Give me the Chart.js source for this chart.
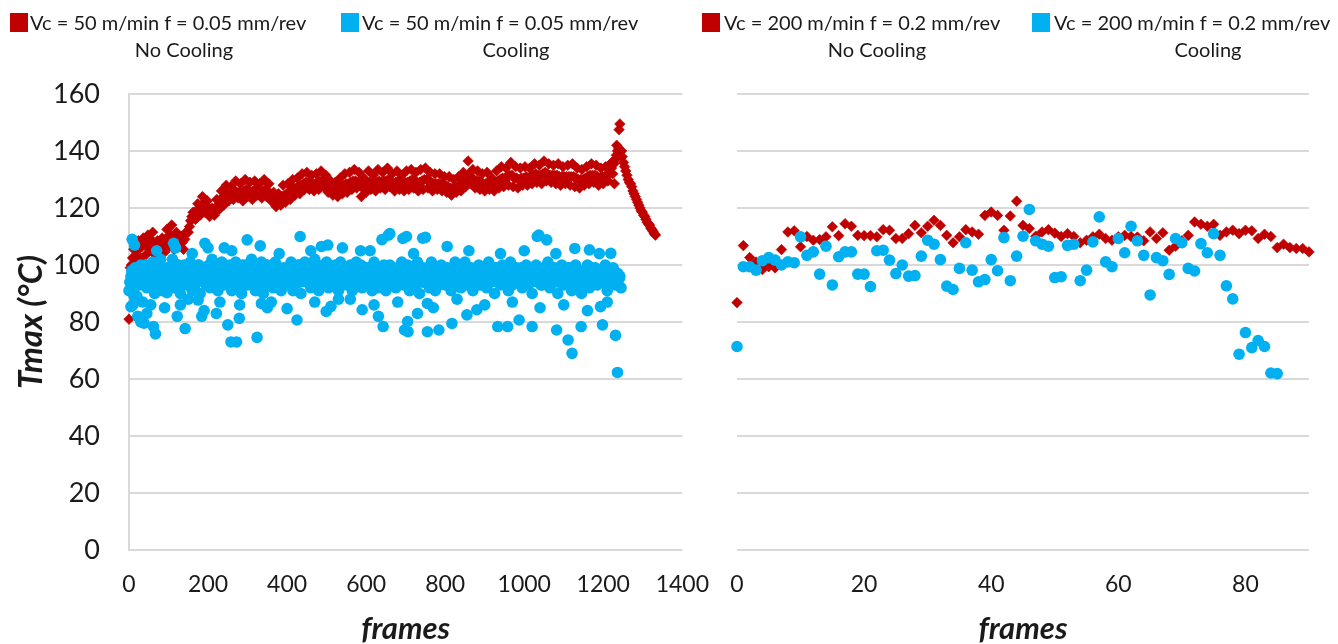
<!DOCTYPE html>
<html><head><meta charset="utf-8">
<script src="https://cdn.jsdelivr.net/npm/chart.js@4.4.1/dist/chart.umd.min.js"></script>
<style>
html,body{margin:0;padding:0;background:#fff;}
#wrap{position:relative;width:1338px;height:644px;overflow:hidden;font-family:Lato,"Open Sans",sans-serif;}
canvas{position:absolute;top:0;}
.box{position:absolute;width:18px;height:19px;top:13px;}
.lt{position:absolute;font-size:20px;color:#1a1a1a;white-space:nowrap;line-height:24px;}
.c{transform:translateX(-50%);}
</style></head><body>
<div id="wrap">
<canvas id="left" width="730" height="644" style="left:0;width:730px;height:644px"></canvas>
<canvas id="right" width="638" height="644" style="left:700px;width:638px;height:644px"></canvas>
<div id="legend"></div>
</div>
<script>
// ---------- DATA ----------
const RED = '#C00000';
const BLUE = '#00B0F0';

const legendLine1 = ['Vc = 50 m/min f = 0.05 mm/rev','Vc = 50 m/min f = 0.05 mm/rev','Vc = 200 m/min f = 0.2 mm/rev','Vc = 200 m/min f = 0.2 mm/rev'];
const legendLine2 = ['No Cooling','Cooling','No Cooling','Cooling'];

const leftXTicks = [0,200,400,600,800,1000,1200,1400];
const rightXTicks = [0,20,40,60,80];
const yTicks = [0,20,40,60,80,100,120,140,160];

// left panel, no cooling: samples every 6 frames starting at frame 0
const redLeftStep = 6;
const redLeft = [
81,100,105.5,100.5,108.5,102.5,109.5,103.5,110.5,105.5,
111.5,103.5,108.5,102.5,109.5,104.5,112.5,106.5,114,105.5,
111.5,106.5,110,105.5,111.5,111.5,115.5,118.5,116,121.5,
117.5,124,118.5,122.5,117,120,117.5,123,119.5,126,
121,128,122.5,127.5,123,129.5,123.5,128.5,122.5,130,
124,129,123,129.5,124.5,128.5,123.5,130,124,128.5,
122.5,125.5,120.5,125,121,128,122,128.5,123,130,
124.5,130.5,125,132,126.5,132.5,126.5,131.5,126,132,
126.5,133,127.5,131.5,125.5,129.5,124.5,129,124,130.5,
125,132,125.5,132.5,126.5,133.5,127,132.5,124,130.5,
125.5,133,126.5,131.5,126,133.5,127,132.5,126.5,134,
127.5,132,126,133,126.5,131.5,126,133,126.5,133.5,
127,132.5,126,133.5,126.5,134,127,132.5,126,132,
126.5,132,126,131,125.5,131,124.5,130,125.5,131,
126,132.5,127.5,136.5,128.5,133.5,127,133,126.5,132,
126,132.5,126.5,130.5,126,133,127,134.5,127.5,134,
128,136,127.5,134.5,127,134,128,134.5,128,134,
128.5,135.5,129,135,128.5,136.5,129.5,135.5,129,135,
128.5,135.5,128,134.5,128.5,135,128,135.5,127.5,134,
127,133.5,128,134.5,128.5,135.5,129,135,128,134,
128.5,134.5,129.5,135.5,132,137,140,149.5,138,134.5,
131.5,129,127.5,125,123,121,119,117.5,116,114.5,
113,111.8,110.5
];
// left panel, no cooling: samples in between, every 6 frames starting at frame 3
const redLeftMidStart = 3;
const redLeftMid = [
99,102.5,103,105,106,106.5,107,107.5,108,108.5,
108,106,106,106.5,107,109,110,110.5,109.5,108.5,
109,108,108,109,111.5,113.5,117,117.5,118.5,120,
121,121,120.5,120,118.5,119,120,121,123,123,
124.5,125,124.5,125.5,126,125.5,125.5,125,126,126.5,
126,125.5,126,126.5,126,125.5,126,126.5,126,125,
123.5,122.5,122.5,123,124,124.5,125,125.5,126,127,
127,127.5,128,128.5,129,129,128.5,128.5,128.5,129,
129.5,129.5,128.5,127.5,126.5,126.5,126,126,127,127.5,
128,128.5,128.5,129,129.5,129.5,129,128,127,127.5,
128.5,129,128.5,128.5,129,129.5,129,129.5,129.5,130,
129.5,128.5,129,129.5,128.5,128.5,129,129,129.5,130,
129.5,129,129,129.5,130,130,129.5,129,128.5,128.5,
128.5,128.5,128,128,127.5,127,127,127,127.5,128,
128.5,129.5,131.5,132,130.5,130,129.5,129.5,129,128.5,
128.5,129,128,128,129,129.5,130,130.5,130.5,130.5,
131.5,131.5,130.5,130.5,130,130.5,130.5,131,130.5,131,
131.5,132,131.5,131.5,132,132.5,132,131.5,131.5,131.5,
131.5,131,131,131,131,131,131,131,130.5,130,
130,130,130.5,131,131.5,131.5,131.5,131,130.5,131,
131,131.5,132,134,135.5,138.5,141,140,136,133,
130,128.5,126,124,122,120,118.5,117,115,114,
112.5,111
];
const redLeftExtraFrames = [1222,1228,1234,1240,1246];
const redLeftExtraValues = [136,128.5,142,147.5,140];

// left panel, cooling: samples every 5 frames starting at frame 0
const blueLeftStep = 5;
const blueLeft = [
91,96,86,99,89,94,100,87,95,92,
97,93,101,90,98,94,102,91,96,99,
94,98,102,92,96,100,90,95,100,93,
97,101,91,98,94,100,90,96,99,93,
98,92,102,95,99,91,97,101,93,98,
94,100,91,97,101,93,98,90,96,100,
93,98,102,95,91,99,94,101,90,97,
100,93,98,92,101,96,99,91,95,98,
93,97,101,91,98,94,100,90,96,101,
94,98,92,97,102,95,91,99,94,98,
101,92,96,99,93,98,91,101,95,98,
93,97,100,91,95,101,94,98,92,96,
99,93,98,91,101,96,92,98,94,100,
91,97,100,93,98,92,99,95,101,93,
97,100,91,96,98,93,101,90,95,99,
94,98,92,101,96,91,98,93,100,97,
93,99,95,91,98,101,94,97,92,98,
101,93,96,99,91,98,95,100,93,97,
98,92,101,94,97,90,99,96,93,100,
95,98,91,101,93,97,99,94,98,92,
96,100,93,98,90,97,100,94,98,93,
99,95,101,92,97,94,98,90,96,100,
93,98,94,99,91,97,100,93,96,90,
98,94,100,92,97,95,99,93,98,94,
96,100,91,98,94,99,93,97,95,92
];
// left panel, cooling: samples in between, every 5 frames starting at frame 2
const blueLeftMidStart = 2;
const blueLeftMid = [
94,98,92,96,99,93,97,95,100,94,
96,99,93,97,95,100,94,98,93,97,
99,95,97,94,100,96,93,98,95,97,
94,99,96,93,97,100,95,98,94,96,
100,95,97,93,98,96,99,94,97,95,
97,93,99,95,98,96,94,100,95,97,
96,99,94,97,95,99,93,97,96,100,
94,97,95,99,93,98,96,94,99,95,
97,95,99,93,96,100,94,97,95,98,
96,94,99,95,97,93,99,96,100,94,
95,98,94,97,100,95,98,93,97,96,
99,94,96,98,93,97,95,100,96,94,
96,99,94,97,95,98,93,97,99,95,
98,94,96,99,95,97,93,98,96,100,
94,97,95,99,93,97,96,98,94,96,
97,95,99,94,97,99,95,96,98,94,
96,98,93,97,95,99,96,94,98,96,
95,97,99,94,96,98,93,97,96,99,
94,97,95,98,96,99,94,97,95,98,
97,94,99,96,95,98,94,96,99,95,
98,95,97,94,99,96,95,98,93,97,
96,98,94,97,95,99,96,94,98,95,
97,95,99,96,94,98,95,97,93,96,
95,98,96,94,99,96,97,95,98,94,
97,95,99,94,96,98,95,97,96
];
const blueLeftOutFrames = [8,14,5,13,22,30,38,45,55,62,67,90,96,113,118,122,130,142,150,175,
184,190,192,200,221,230,241,250,258,272,279,280,299,324,332,335,350,360,400,425,
433,470,487,499,503,511,530,540,560,586,590,620,631,640,643,656,680,693,697,702,
705,706,730,743,755,755,770,784,805,817,830,855,880,900,933,958,970,987,1020,1037,
1040,1057,1082,1100,1111,1121,1128,1144,1160,1165,1193,1198,1210,1219,1231,1236,
70,160,260,380,460,610,660,720,750,860,940,1000,1033,1080,1190];
const blueLeftOutValues = [109,107,85.4,89,82,80,79.6,83,86,78.4,75.8,85,90.3,107.6,106,82,86,77.7,88,87.7,
82,84,107.6,106,83,87,106,79,73,73,81.3,86,108.8,74.6,106.7,86.5,85,87,84.7,80.7,
110,87,106.5,83.7,107,85.5,88,106,88,105,84.3,86,82,108.9,78.4,110.5,87,109.3,77.2,110,
80.2,76.6,83,109.4,76.6,86.5,85,77.2,106.5,79.5,88,82.5,84.3,86,78.4,78.4,87,80.7,78.4,110.5,
85,108.8,77.2,86,73.7,69,105.8,78.4,84,105.3,85.4,79,87,104.1,75.3,62.3,
105,104,105,104,105,105,111,104,109.7,105,104,105,110,104,104];

// right panel: one value per frame starting at frame 0
const redRight = [
86.8,106.8,102.6,101,98.4,99.4,99,105.4,111.6,112,
106.4,110,108.7,108.9,109.9,113.4,110.3,114.5,113.6,110.4,
110.3,110.3,109.9,112.4,112.2,109.3,109.3,111,113.9,111.3,
113.6,115.7,113.9,110.4,107.8,109.9,112.4,111.6,110.8,117.4,
118.6,117.4,112.2,117.2,122.4,113.9,112.8,110.1,111.6,112.4,
111.2,110,111,110,107.8,108.7,109.9,110.8,109.3,108.7,
109.9,110.4,110,109.8,108.5,111.6,109.3,111.3,105.2,106.6,
108.5,110.4,115.1,114.3,113.6,114.3,110.4,111.6,112.2,111,
112.2,112,109.3,110.8,110,106.1,107.3,106.1,105.8,105.8,
104.6
];
const blueRight = [
71.4,99.4,99.4,98.2,101.5,102.6,101.7,100,101.1,100.8,
109.9,103.4,104.6,96.8,106.6,93,102.9,104.6,104.6,96.8,
96.8,92.4,105,105.2,101.7,97,100,96.1,96.3,103.1,
108.7,107.3,101.9,92.6,91.4,98.8,107.8,98.2,94.1,94.9,
101.9,98,109.6,94.5,103.1,110.1,119.5,108.5,107.3,106.6,
95.6,95.9,106.9,107.3,94.5,98.2,108.1,116.9,101.1,99.4,
109.3,104.3,113.6,108.5,103.4,89.5,102.6,101.5,96.7,109.3,
107.8,98.8,97.9,107.5,104.3,111,103.4,92.7,88.1,68.7,
76.3,71,73.5,71.4,62.1,61.9
];

// ---------- BUILD ----------
function stepPts(vals, step, start){ return vals.map((v,i)=>({x:(start||0)+i*step, y:v})); }
function pairPts(fr, vals){ return fr.map((f,i)=>({x:f, y:vals[i]})); }

const redLeftPts = stepPts(redLeft, redLeftStep, 0)
  .concat(stepPts(redLeftMid, redLeftStep, redLeftMidStart))
  .concat(pairPts(redLeftExtraFrames, redLeftExtraValues));
const blueLeftPts = stepPts(blueLeft, blueLeftStep, 0)
  .concat(stepPts(blueLeftMid, blueLeftStep, blueLeftMidStart))
  .concat(pairPts(blueLeftOutFrames, blueLeftOutValues));
const redRightPts = stepPts(redRight, 1, 0);
const blueRightPts = stepPts(blueRight, 1, 0);

// legend (HTML)
const legPos = [
  {box:10, text:30, center:184, color:RED},
  {box:341, text:362, center:516, color:BLUE},
  {box:702, text:724, center:877, color:RED},
  {box:1032, text:1054, center:1208, color:BLUE}
];
const leg = document.getElementById('legend');
legPos.forEach((p,i)=>{
  const b = document.createElement('div'); b.className='box'; b.style.left=p.box+'px'; b.style.background=p.color; leg.appendChild(b);
  const t1 = document.createElement('div'); t1.className='lt'; t1.style.left=p.text+'px'; t1.style.top='10px'; t1.textContent=legendLine1[i]; leg.appendChild(t1);
  const t2 = document.createElement('div'); t2.className='lt c'; t2.style.left=p.center+'px'; t2.style.top='37px'; t2.textContent=legendLine2[i]; leg.appendChild(t2);
});

const FONT = 'Lato';
const TXT = '#1a1a1a';
const GRID = '#d9d9d9';
const xTitleFont = {family:FONT, size:31, weight:'bold', style:'italic', lineHeight:1.0};
const yTitleFont = {family:FONT, size:33, weight:'bold', style:'italic', lineHeight:1.2};
const xTickFont = {family:FONT, size:23};
const yTickFont = {family:FONT, size:27};

function ds(label, pts, color, diamond){
  return {label, data:pts, pointStyle: diamond?'rectRot':'circle',
    pointRadius: diamond?5.3:5.8, pointHoverRadius: diamond?5.3:5.8,
    pointBackgroundColor:color, pointBorderColor:color, pointBorderWidth: diamond?0.6:0,
    backgroundColor:color, borderColor:color, showLine:false, clip:false, order: diamond?2:1};
}

Chart.defaults.font.family = FONT;
const plainTick = v => String(v);

new Chart(document.getElementById('left'), {
  type:'scatter',
  data:{datasets:[
    ds(legendLine1[0]+' '+legendLine2[0], redLeftPts, RED, true),
    ds(legendLine1[1]+' '+legendLine2[1], blueLeftPts, BLUE, false)
  ]},
  options:{
    responsive:false, animation:false, devicePixelRatio:1,
    layout:{padding:{top:94,right:37,bottom:0,left:0}, autoPadding:false},
    plugins:{legend:{display:false}, tooltip:{enabled:false}},
    scales:{
      x:{type:'linear', min:leftXTicks[0], max:leftXTicks[leftXTicks.length-1],
        afterBuildTicks:s=>{ s.ticks = leftXTicks.map(v=>({value:v})); },
        ticks:{font:xTickFont, color:TXT, padding:21, maxRotation:0, autoSkip:false, callback:plainTick},
        grid:{display:false, drawTicks:false}, border:{display:false},
        title:{display:true, text:'frames', font:xTitleFont, color:TXT, padding:0},
        afterFit:s=>{ s.height = 94; }},
      y:{min:yTicks[0], max:yTicks[yTicks.length-1],
        afterBuildTicks:s=>{ s.ticks = yTicks.map(v=>({value:v})); },
        ticks:{font:yTickFont, color:TXT, padding:29, callback:plainTick},
        grid:{color:GRID, lineWidth:2, drawTicks:false},
        border:{display:true, color:GRID, width:2},
        title:{display:true, text:'Tmax (°C)', font:yTitleFont, color:TXT, padding:{top:12,bottom:0}},
        afterFit:s=>{ s.width = 129; }}
    }
  }
});

new Chart(document.getElementById('right'), {
  type:'scatter',
  data:{datasets:[
    ds(legendLine1[2]+' '+legendLine2[2], redRightPts, RED, true),
    ds(legendLine1[3]+' '+legendLine2[3], blueRightPts, BLUE, false)
  ]},
  options:{
    responsive:false, animation:false, devicePixelRatio:1,
    layout:{padding:{top:94,right:29,bottom:0,left:0}, autoPadding:false},
    plugins:{legend:{display:false}, tooltip:{enabled:false}},
    scales:{
      x:{type:'linear', min:0, max:90,
        afterBuildTicks:s=>{ s.ticks = rightXTicks.map(v=>({value:v})); },
        ticks:{font:xTickFont, color:TXT, padding:21, maxRotation:0, autoSkip:false, callback:plainTick},
        grid:{display:false, drawTicks:false}, border:{display:false},
        title:{display:true, text:'frames', font:xTitleFont, color:TXT, padding:0},
        afterFit:s=>{ s.height = 94; }},
      y:{min:yTicks[0], max:yTicks[yTicks.length-1],
        afterBuildTicks:s=>{ s.ticks = yTicks.map(v=>({value:v})); },
        ticks:{display:false},
        grid:{color:GRID, lineWidth:2, drawTicks:false},
        border:{display:false},
        afterFit:s=>{ s.width = 37; }}
    }
  }
});
</script>
</body></html>
